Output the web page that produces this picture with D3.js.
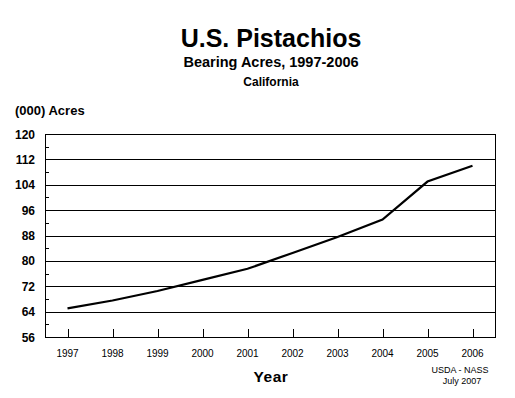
<!doctype html>
<html>
  <head>
    <script src="https://cdnjs.cloudflare.com/ajax/libs/d3/7.8.5/d3.min.js"></script>
    <style>
      body { margin: 0; background: #fff; }
      svg { font-family: "Liberation Sans", Arial, sans-serif; }
      line.grid { stroke: #000; stroke-width: 1; shape-rendering: crispEdges; }
      rect.frame { fill: none; stroke: #000; stroke-width: 1; shape-rendering: crispEdges; }
      path.series { fill: none; stroke: #000; stroke-width: 2.2; }
    </style>
  </head>
  <body>
    <svg width="515" height="398"></svg>
    <script>
      var years = ["1997", "1998", "1999", "2000", "2001", "2002", "2003", "2004", "2005", "2006"];
      var acres = [65, 67.5, 70.5, 74, 77.5, 82.5, 87.5, 93, 105, 110];
      var yTicks = [56, 64, 72, 80, 88, 96, 104, 112, 120];
      var yMinor = [60, 68, 76, 84, 92, 100, 108, 116];

      var svg = d3.select("svg");
      var plotL = 45, plotR = 495, plotT = 134, plotB = 337;

      var x = d3.scaleBand().domain(years).range([plotL, plotR]);
      var y = d3.scaleLinear().domain([56, 120]).range([plotB, plotT]);
      var cx = d => x(d) + x.bandwidth() / 2;

      // horizontal grid
      svg.selectAll("line.grid").data(yTicks.slice(1, -1))
        .enter().append("line")
          .attr("class", "grid")
          .attr("x1", plotL).attr("x2", plotR)
          .attr("y1", d => Math.round(y(d)) + 0.5)
          .attr("y2", d => Math.round(y(d)) + 0.5);

      svg.append("rect")
        .attr("class", "frame")
        .attr("x", plotL + 0.5).attr("y", plotT + 0.5)
        .attr("width", plotR - plotL).attr("height", plotB - plotT);

      // minor y ticks, inside
      svg.selectAll("line.minor").data(yMinor)
        .enter().append("line")
          .attr("class", "grid minor")
          .attr("x1", plotL).attr("x2", plotL + 4)
          .attr("y1", d => Math.round(y(d)) + 0.5)
          .attr("y2", d => Math.round(y(d)) + 0.5);

      // x ticks, inside from bottom
      svg.selectAll("line.xtick").data(years)
        .enter().append("line")
          .attr("class", "grid xtick")
          .attr("x1", d => Math.round(cx(d)) + 0.5)
          .attr("x2", d => Math.round(cx(d)) + 0.5)
          .attr("y1", plotB - 8).attr("y2", plotB);

      svg.selectAll("text.ylab").data(yTicks)
        .enter().append("text")
          .attr("class", "ylab")
          .attr("x", 35).attr("y", d => y(d) + 4.5)
          .attr("text-anchor", "end")
          .attr("font-size", 12).attr("font-weight", "bold")
          .text(d => d);

      svg.selectAll("text.xlab").data(years)
        .enter().append("text")
          .attr("class", "xlab")
          .attr("x", d => cx(d))
          .attr("y", 357)
          .attr("text-anchor", "middle")
          .attr("font-size", 10)
          .text(d => d);

      var line = d3.line()
        .x((d, i) => cx(years[i]))
        .y(d => y(d));

      svg.append("path").datum(acres)
        .attr("class", "series")
        .attr("d", line);

      svg.append("text").attr("x", 271).attr("y", 47)
        .attr("text-anchor", "middle").attr("font-size", 25).attr("font-weight", "bold")
        .text("U.S. Pistachios");
      svg.append("text").attr("x", 271).attr("y", 67)
        .attr("text-anchor", "middle").attr("font-size", 14.5).attr("font-weight", "bold")
        .text("Bearing Acres, 1997-2006");
      svg.append("text").attr("x", 271).attr("y", 86)
        .attr("text-anchor", "middle").attr("font-size", 12).attr("font-weight", "bold")
        .text("California");
      svg.append("text").attr("x", 15).attr("y", 115)
        .attr("font-size", 13).attr("font-weight", "bold")
        .text("(000) Acres");
      svg.append("text").attr("x", 271).attr("y", 382)
        .attr("text-anchor", "middle").attr("font-size", 15.5).attr("font-weight", "bold")
        .attr("letter-spacing", 0.5)
        .text("Year");
      svg.append("text").attr("x", 460).attr("y", 373)
        .attr("text-anchor", "middle").attr("font-size", 9)
        .text("USDA - NASS");
      svg.append("text").attr("x", 462).attr("y", 384)
        .attr("text-anchor", "middle").attr("font-size", 9)
        .text("July 2007");
    </script>
  </body>
</html>
